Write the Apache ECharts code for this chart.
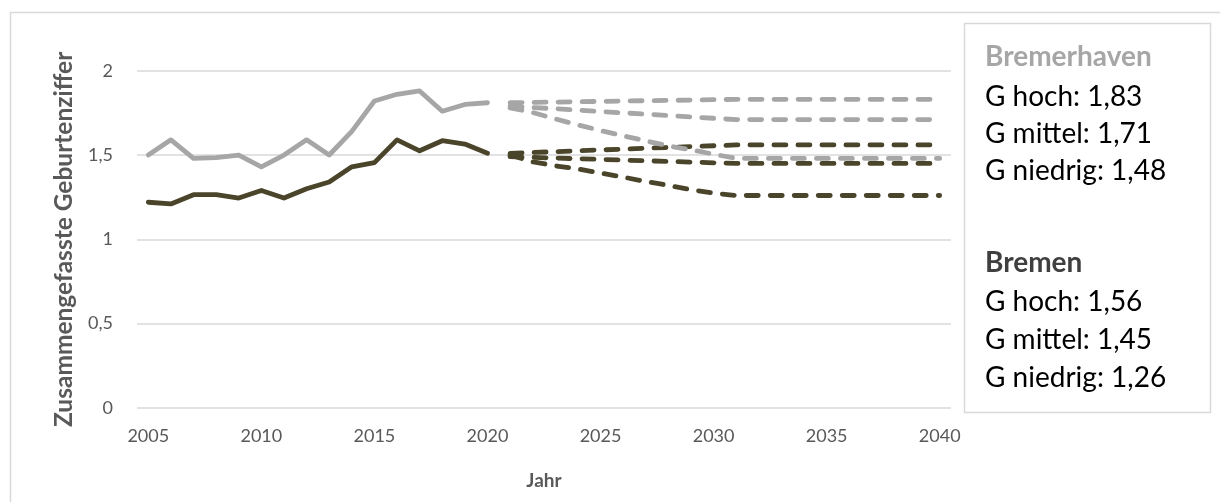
<!DOCTYPE html>
<html>
<head>
<meta charset="utf-8">
<script src="https://cdn.jsdelivr.net/npm/echarts@6/dist/echarts.min.js"></script>
<style>
html,body{margin:0;padding:0;background:#fff;}
#chart{width:1220px;height:502px;}
</style>
</head>
<body>
<div id="chart"></div>
<script>
var years = ['2005','2006','2007','2008','2009','2010','2011','2012','2013','2014','2015','2016','2017','2018','2019','2020',
  '2021','2022','2023','2024','2025','2026','2027','2028','2029','2030','2031','2032','2033','2034','2035','2036','2037','2038','2039','2040'];

var yTicks = ['0','0,5','1','1,5','2'];

var bremerhaven = [1.50,1.59,1.48,1.485,1.50,1.43,1.50,1.59,1.50,1.64,1.82,1.86,1.88,1.76,1.80,1.81,
  null,null,null,null,null,null,null,null,null,null,null,null,null,null,null,null,null,null,null,null];
var bremen = [1.22,1.21,1.265,1.265,1.245,1.29,1.245,1.30,1.34,1.43,1.455,1.59,1.525,1.585,1.565,1.51,
  null,null,null,null,null,null,null,null,null,null,null,null,null,null,null,null,null,null,null,null];

var N16 = [null,null,null,null,null,null,null,null,null,null,null,null,null,null,null,null];
var bhvHoch    = N16.concat([1.81,1.812,1.814,1.816,1.818,1.82,1.822,1.824,1.826,1.828,1.83,1.83,1.83,1.83,1.83,1.83,1.83,1.83,1.83,1.83]);
var bhvMittel  = N16.concat([1.79,1.782,1.774,1.766,1.758,1.75,1.742,1.734,1.726,1.718,1.71,1.71,1.71,1.71,1.71,1.71,1.71,1.71,1.71,1.71]);
var bhvNiedrig = N16.concat([1.78,1.752,1.714,1.679,1.645,1.614,1.584,1.554,1.531,1.505,1.48,1.48,1.48,1.48,1.48,1.48,1.48,1.48,1.48,1.48]);
var hbHoch     = N16.concat([1.51,1.515,1.52,1.525,1.53,1.535,1.54,1.545,1.55,1.555,1.56,1.56,1.56,1.56,1.56,1.56,1.56,1.56,1.56,1.56]);
var hbMittel   = N16.concat([1.49,1.486,1.482,1.478,1.474,1.47,1.466,1.462,1.458,1.454,1.45,1.45,1.45,1.45,1.45,1.45,1.45,1.45,1.45,1.45]);
var hbNiedrig  = N16.concat([1.50,1.46,1.436,1.417,1.393,1.369,1.343,1.32,1.294,1.274,1.26,1.26,1.26,1.26,1.26,1.26,1.26,1.26,1.26,1.26]);

var boxTitles = ['Bremerhaven','Bremen'];
var boxBhv = ['G hoch: 1,83','G mittel: 1,71','G niedrig: 1,48'];
var boxHb  = ['G hoch: 1,56','G mittel: 1,45','G niedrig: 1,26'];

var GREY = '#A6A6A6';
var DARK = '#4A452A';
var FONT = 'Lato';

function solid(name, data, color){
  return {name:name,type:'line',data:data,symbol:'none',connectNulls:false,
    lineStyle:{color:color,width:4.8,cap:'round',join:'round'},itemStyle:{color:color}};
}
function dashed(name, data, color){
  return {name:name,type:'line',data:data,symbol:'none',
    lineStyle:{color:color,width:4.8,type:[12,12],cap:'round',join:'round'},itemStyle:{color:color}};
}

var chart = echarts.init(document.getElementById('chart'), null, {renderer:'canvas'});

var textEls = [];
var lineY = [57, 97, 134, 171];
var lineY2 = [263, 302, 340, 378];
function txt(t, y, bold, color){
  return {type:'text',x:985,y:y,style:{text:t,font:(bold?'bold ':'')+'28px '+FONT,fill:color,verticalAlign:'middle',align:'left'}};
}
textEls.push(txt(boxTitles[0], lineY[0], true, GREY));
for (var i=0;i<3;i++) textEls.push(txt(boxBhv[i], lineY[i+1], false, '#000'));
textEls.push(txt(boxTitles[1], lineY2[0], true, '#3F3F3F'));
for (var j=0;j<3;j++) textEls.push(txt(boxHb[j], lineY2[j+1], false, '#000'));

chart.setOption({
  animation:false,
  backgroundColor:'#fff',
  grid:{left:137,right:269,top:70.7,bottom:94,containLabel:false},
  xAxis:{
    type:'category',data:years,boundaryGap:true,
    name:'Jahr',nameLocation:'middle',nameGap:63,
    nameTextStyle:{fontFamily:FONT,fontWeight:'bold',fontSize:19,color:'#595959'},
    axisLine:{show:false},axisTick:{show:false},
    axisLabel:{interval:4,margin:19,fontFamily:FONT,fontSize:18,color:'#595959'},
    splitLine:{show:false}
  },
  yAxis:{
    type:'value',min:0,max:2,interval:0.5,
    name:'Zusammengefasste Geburtenziffer',nameLocation:'middle',nameGap:60,nameRotate:90,
    nameTextStyle:{fontFamily:FONT,fontWeight:'bold',fontSize:24.5,color:'#595959'},
    axisLine:{show:false},axisTick:{show:false},
    axisLabel:{margin:24,fontFamily:FONT,fontSize:18,color:'#595959',
      formatter:function(v){ return yTicks[Math.round(v*2)]; }},
    splitLine:{lineStyle:{color:'#D9D9D9',width:1.5}}
  },
  graphic:[
    {type:'rect',shape:{x:10.5,y:12.5,width:1230,height:510},style:{fill:'none',stroke:'#D9D9D9',lineWidth:1.5},silent:true,z:-1},
    {type:'rect',shape:{x:964.5,y:23.5,width:246,height:389},style:{fill:'#fff',stroke:'#D9D9D9',lineWidth:1.5},silent:true}
  ].concat(textEls),
  series:[
    solid('Bremen',bremen,DARK),
    dashed('Bremen G hoch',hbHoch,DARK),
    dashed('Bremen G mittel',hbMittel,DARK),
    dashed('Bremen G niedrig',hbNiedrig,DARK),
    solid('Bremerhaven',bremerhaven,GREY),
    dashed('Bremerhaven G hoch',bhvHoch,GREY),
    dashed('Bremerhaven G mittel',bhvMittel,GREY),
    dashed('Bremerhaven G niedrig',bhvNiedrig,GREY)
  ]
});
</script>
</body>
</html>
